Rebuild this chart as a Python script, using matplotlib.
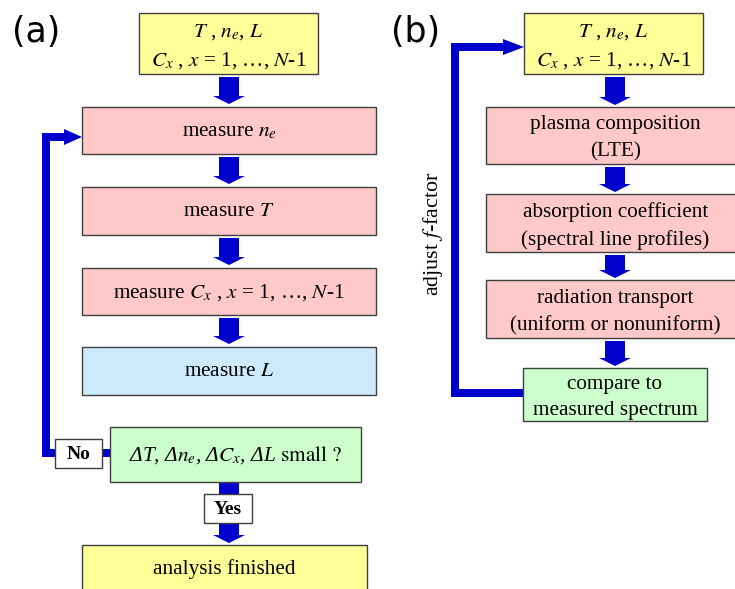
import matplotlib.pyplot as plt
from matplotlib.patches import Rectangle, Polygon

plt.rcParams['font.family'] = ['Liberation Serif', 'DejaVu Serif']
plt.rcParams['mathtext.fontset'] = 'stix'

# flowchart content
panel_labels = ['(a)', '(b)']
a_labels = [r'$T$ , $n_e$, $L$' + '\n' + r'$C_x$ , $x$ = 1, …, $N$-1',
            r'measure $n_e$',
            r'measure $T$',
            r'measure $C_x$ , $x$ = 1, …, $N$-1',
            r'measure $L$',
            r'ΔT, Δ$n_e$, Δ$C_x$, ΔL $\mathrm{small\ ?}$',
            'analysis finished']
a_kinds = ['input', 'step', 'step', 'step', 'length', 'check', 'input']
b_labels = [r'$T$ , $n_e$, $L$' + '\n' + r'$C_x$ , $x$ = 1, …, $N$-1',
            'plasma composition\n(LTE)',
            'absorption coefficient\n(spectral line profiles)',
            'radiation transport\n(uniform or nonuniform)',
            'compare to\nmeasured spectrum']
b_kinds = ['input', 'step', 'step', 'step', 'check']
no_label, yes_label = 'No', 'Yes'
loop_label = r'adjust $f$-factor'

colors = {'input': '#ffff99', 'step': '#ffc9c9', 'length': '#cdeafd',
          'check': '#ccffcc', 'tag': 'white'}
blue = '#0000cc'
edge = '#3f3f3f'

# layout in pixels (x0, y0, x1, y1)
a_boxes = [(139, 13, 318, 74), (82, 107, 376, 154), (82, 187, 376, 235),
           (82, 268, 376, 315), (82, 347, 376, 395), (110, 427, 361, 482),
           (82, 545, 367, 591)]
b_boxes = [(524, 13, 703, 74), (486, 107, 745, 164), (486, 194, 745, 252),
           (486, 280, 745, 338), (523, 368, 707, 421)]

fig = plt.figure(figsize=(7.35, 5.89), dpi=100)
ax = fig.add_axes([0, 0, 1, 1])
ax.set_xlim(0, 735)
ax.set_ylim(589, 0)
ax.axis('off')


def box(b, kind, text, size=15.3, weight='normal', style='normal'):
    x0, y0, x1, y1 = b
    dy = 3 if '\n' in text else 1
    ax.add_patch(Rectangle((x0, y0), x1 - x0, y1 - y0, facecolor=colors[kind],
                           edgecolor=edge, lw=1.0, zorder=2))
    ax.text((x0 + x1) / 2, (y0 + y1) / 2 + dy, text, ha='center', va='center',
            fontsize=size, weight=weight, style=style, linespacing=1.55,
            zorder=3)


def down_arrow(xc, ya, yb, shaft=20, head=32, hl=8):
    pts = [(xc - shaft / 2, ya), (xc + shaft / 2, ya), (xc + shaft / 2, yb - hl),
           (xc + head / 2, yb - hl), (xc, yb), (xc - head / 2, yb - hl),
           (xc - shaft / 2, yb - hl)]
    ax.add_patch(Polygon(pts, closed=True, color=blue, lw=0, zorder=1))


def loop(xs, ys, lw_px=8, head_len=18, head_w=16):
    ax.plot(xs[:-1] + [xs[-1] - head_len], ys, color=blue, lw=lw_px * 0.72,
            solid_joinstyle='miter', solid_capstyle='butt', zorder=1)
    xe, ye = xs[-1], ys[-1]
    ax.add_patch(Polygon([(xe - head_len, ye - head_w / 2), (xe, ye),
                          (xe - head_len, ye + head_w / 2)], closed=True,
                         color=blue, lw=0, zorder=1))


# panel (a)
for b, k, t in zip(a_boxes, a_kinds, a_labels):
    box(b, k, t, style='italic' if k == 'check' else 'normal')
for i in range(4):
    down_arrow(229, a_boxes[i][3] + 3, a_boxes[i + 1][1] - 3)
ax.add_patch(Rectangle((219, 482), 20, 14, color=blue, lw=0, zorder=1))
down_arrow(229, 523, 543)
box((55, 439, 102, 468), 'tag', no_label, size=14, weight='bold')
box((204, 494, 252, 523), 'tag', yes_label, size=14, weight='bold')
ax.plot([100, 112], [453, 453], color=blue, lw=8 * 0.72,
        solid_capstyle='butt', zorder=1)
loop([57, 46, 46, 82], [453, 453, 137, 137])

# panel (b)
for b, k, t in zip(b_boxes, b_kinds, b_labels):
    box(b, k, t)
for i in range(4):
    down_arrow(615, b_boxes[i][3] + 3, b_boxes[i + 1][1] - 2)
loop([525, 455, 455, 524], [393, 393, 47, 47], head_len=21)
ax.text(433, 234, loop_label, rotation=90, ha='center', va='center',
        fontsize=15.8)

ax.text(12, 32, panel_labels[0], family='DejaVu Sans', fontsize=25,
        va='center', ha='left')
ax.text(391, 32, panel_labels[1], family='DejaVu Sans', fontsize=25,
        va='center', ha='left')

fig.savefig('out.png', dpi=100)
